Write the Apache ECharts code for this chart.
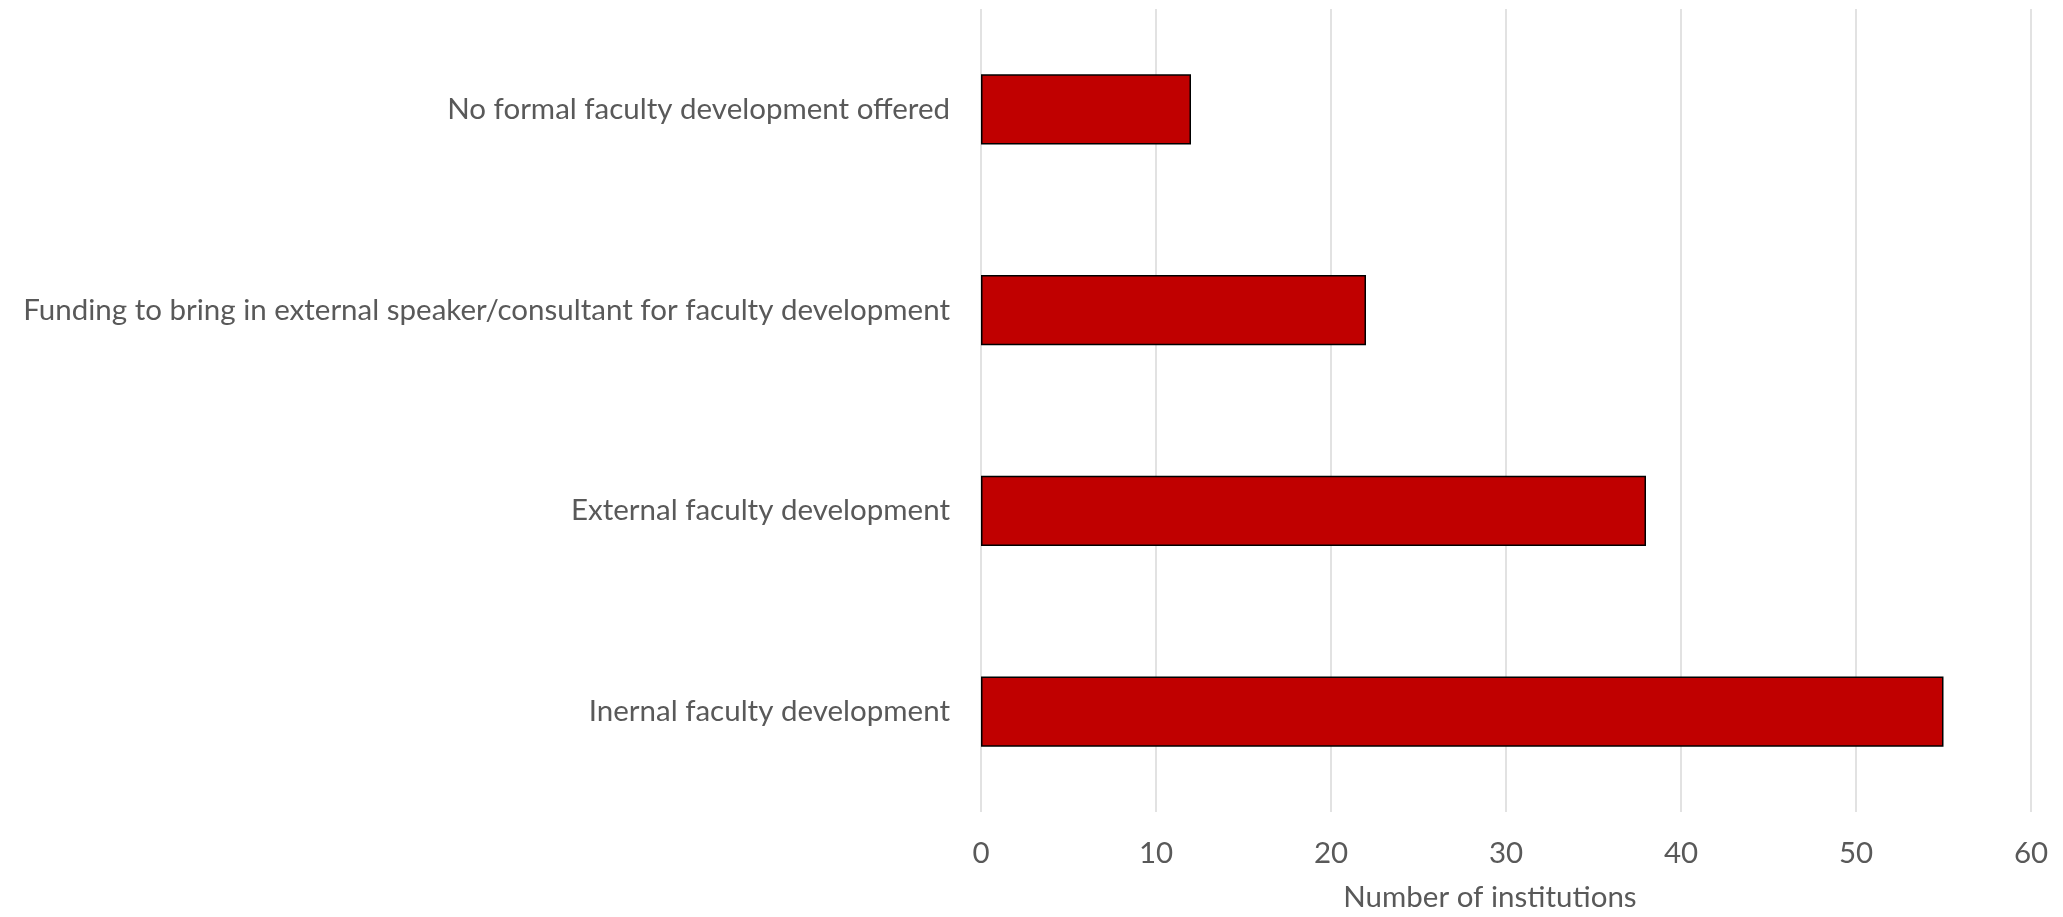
<!DOCTYPE html>
<html>
<head>
<meta charset="utf-8">
<script src="https://cdn.jsdelivr.net/npm/echarts@6/dist/echarts.min.js"></script>
<style>
html,body{margin:0;padding:0;background:#fff;}
#chart{width:2063px;height:917px;}
</style>
</head>
<body>
<div id="chart"></div>
<script>
const categories = [
  "No formal faculty development offered",
  "Funding to bring in external speaker/consultant for faculty development",
  "External faculty development",
  "Inernal faculty development"
];
const values = [12, 22, 38, 55];
const xTicks = {min: 0, max: 60, interval: 10};
const xName = "Number of institutions";

const chart = echarts.init(document.getElementById('chart'));
const font = "Lato, Open Sans, sans-serif";
chart.setOption({
  animation: false,
  backgroundColor: '#ffffff',
  grid: {left: 981, right: 32, top: 9, bottom: 100, containLabel: false},
  xAxis: {
    type: 'value',
    min: xTicks.min, max: xTicks.max, interval: xTicks.interval,
    axisLine: {show: false},
    axisTick: {show: false},
    splitLine: {show: true, lineStyle: {color: '#d9d9d9', width: 1.5}},
    axisLabel: {fontSize: 29.5, color: '#595959', fontFamily: font, margin: 26},
    name: xName,
    nameLocation: 'middle',
    nameGap: 70,
    nameTextStyle: {fontSize: 29.5, color: '#595959', fontFamily: font, padding: [0, 32, 0, 0]}
  },
  yAxis: {
    type: 'category',
    data: categories,
    inverse: true,
    axisLine: {show: false},
    axisTick: {show: false},
    splitLine: {show: false},
    axisLabel: {fontSize: 29.5, color: '#595959', fontFamily: font, margin: 31}
  },
  series: [{
    type: 'bar',
    data: values,
    barWidth: '35%',
    itemStyle: {color: '#c00000', borderColor: '#000000', borderWidth: 1.5}
  }]
});
</script>
</body>
</html>
